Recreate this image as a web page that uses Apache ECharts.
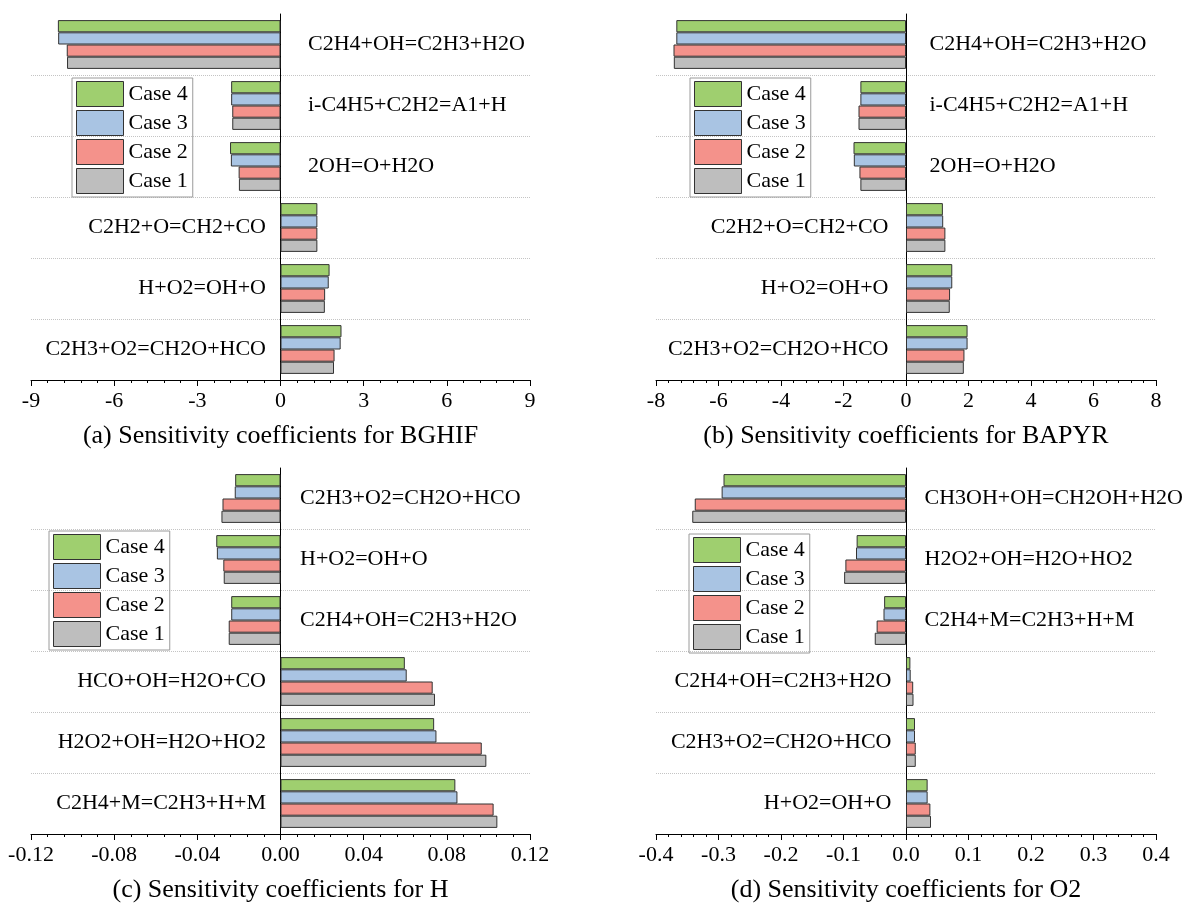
<!DOCTYPE html>
<html>
<head>
<meta charset="utf-8">
<script src="https://cdn.jsdelivr.net/npm/echarts@6/dist/echarts.min.js"></script>
<style>
html,body{margin:0;padding:0;background:#fff;}
#chart{width:1183px;height:905px;}
</style>
</head>
<body>
<div id="chart"></div>
<script>
// ---------- DATA ----------
const caseNames = ['Case 4', 'Case 3', 'Case 2', 'Case 1'];

const catsA = ['C2H4+OH=C2H3+H2O', 'i-C4H5+C2H2=A1+H', '2OH=O+H2O', 'C2H2+O=CH2+CO', 'H+O2=OH+O', 'C2H3+O2=CH2O+HCO'];
const a_case4 = [-8.03, -1.78, -1.82, 1.33, 1.77, 2.20];
const a_case3 = [-8.02, -1.78, -1.79, 1.33, 1.74, 2.17];
const a_case2 = [-7.71, -1.74, -1.51, 1.33, 1.61, 1.95];
const a_case1 = [-7.70, -1.74, -1.50, 1.33, 1.60, 1.93];
const ticksA = [-9, -6, -3, 0, 3, 6, 9];

const catsB = ['C2H4+OH=C2H3+H2O', 'i-C4H5+C2H2=A1+H', '2OH=O+H2O', 'C2H2+O=CH2+CO', 'H+O2=OH+O', 'C2H3+O2=CH2O+HCO'];
const b_case4 = [-7.35, -1.46, -1.68, 1.18, 1.48, 1.97];
const b_case3 = [-7.35, -1.46, -1.67, 1.19, 1.48, 1.97];
const b_case2 = [-7.44, -1.52, -1.49, 1.26, 1.41, 1.87];
const b_case1 = [-7.43, -1.52, -1.46, 1.26, 1.40, 1.85];
const ticksB = [-8, -6, -4, -2, 0, 2, 4, 6, 8];

const catsC = ['C2H3+O2=CH2O+HCO', 'H+O2=OH+O', 'C2H4+OH=C2H3+H2O', 'HCO+OH=H2O+CO', 'H2O2+OH=H2O+HO2', 'C2H4+M=C2H3+H+M'];
const c_case4 = [-0.0218, -0.0309, -0.0237, 0.0598, 0.0739, 0.0841];
const c_case3 = [-0.0220, -0.0306, -0.0237, 0.0607, 0.0750, 0.0851];
const c_case2 = [-0.0279, -0.0275, -0.0249, 0.0732, 0.0968, 0.1025];
const c_case1 = [-0.0284, -0.0273, -0.0249, 0.0743, 0.0990, 0.1043];
const ticksC = [-0.12, -0.08, -0.04, 0.00, 0.04, 0.08, 0.12];

const catsD = ['CH3OH+OH=CH2OH+H2O', 'H2O2+OH=H2O+HO2', 'C2H4+M=C2H3+H+M', 'C2H4+OH=C2H3+H2O', 'C2H3+O2=CH2O+HCO', 'H+O2=OH+O'];
const d_case4 = [-0.292, -0.079, -0.035, 0.0070, 0.0144, 0.0346];
const d_case3 = [-0.295, -0.080, -0.036, 0.0075, 0.0144, 0.0346];
const d_case2 = [-0.338, -0.097, -0.047, 0.0115, 0.0156, 0.0390];
const d_case1 = [-0.342, -0.099, -0.050, 0.0120, 0.0156, 0.0400];
const ticksD = [-0.4, -0.3, -0.2, -0.1, 0.0, 0.1, 0.2, 0.3, 0.4];

const titles = [
  '(a) Sensitivity coefficients for BGHIF',
  '(b) Sensitivity coefficients for BAPYR',
  '(c) Sensitivity coefficients for H',
  '(d) Sensitivity coefficients for O2'
];

// ---------- STYLE / LAYOUT ----------
const FONT = '"Liberation Serif", "Times New Roman", serif';
const caseColors = ['#9fcf6f', '#a9c4e3', '#f4928b', '#bebebe'];

const panels = [
  { cats: catsA, vals: [a_case4, a_case3, a_case2, a_case1], ticks: ticksA, dec: 0,
    grid: { left: 31, right: 653, top: 14, bottom: 525 }, legend: { left: 72, top: 78 }, mL: 14, mR: 27 },
  { cats: catsB, vals: [b_case4, b_case3, b_case2, b_case1], ticks: ticksB, dec: 0,
    grid: { left: 656, right: 27, top: 14, bottom: 525 }, legend: { left: 690, top: 78 }, mL: 17, mR: 23 },
  { cats: catsC, vals: [c_case4, c_case3, c_case2, c_case1], ticks: ticksC, dec: 2,
    grid: { left: 31, right: 653, top: 468, bottom: 71 }, legend: { left: 49, top: 531 }, mL: 14, mR: 19 },
  { cats: catsD, vals: [d_case4, d_case3, d_case2, d_case1], ticks: ticksD, dec: 1,
    grid: { left: 656, right: 27, top: 468, bottom: 71 }, legend: { left: 689, top: 534 }, mL: 14, mR: 18 }
];

const option = {
  animation: false,
  backgroundColor: '#fff',
  textStyle: { fontFamily: FONT },
  grid: [], xAxis: [], yAxis: [], series: [], legend: []
};

panels.forEach((p, g) => {
  const neg = p.vals[3].map(v => v < 0);
  option.grid.push(Object.assign({ outerBoundsMode: 'none', containLabel: false }, p.grid));
  const t = p.ticks;
  option.xAxis.push({
    type: 'value', gridIndex: g,
    min: t[0], max: t[t.length - 1], interval: t[1] - t[0],
    name: titles[g], nameLocation: 'middle', nameGap: 43,
    nameTextStyle: { fontFamily: FONT, fontSize: 26, color: '#000' },
    axisLine: { show: true, onZero: false, lineStyle: { color: '#000', width: 1 } },
    axisTick: { show: true, length: 6, lineStyle: { color: '#000' } },
    minorTick: { show: true, splitNumber: 5, length: 3, lineStyle: { color: '#000' } },
    splitLine: { show: false },
    axisLabel: { fontFamily: FONT, fontSize: 22, color: '#000', margin: 10,
      formatter: v => (Math.abs(v) < 1e-9 ? 0 : v).toFixed(p.dec) }
  });
  option.yAxis.push({
    type: 'category', gridIndex: g, data: p.cats, inverse: true,
    axisLine: { show: true, onZero: true, lineStyle: { color: '#000', width: 1 } },
    axisTick: { show: false },
    axisLabel: { show: false },
    splitLine: { show: true, interval: (i) => i !== 0,
      lineStyle: { type: 'dotted', color: '#c4c4c4', width: 1 } }
  });
  caseNames.forEach((name, k) => {
    option.series.push({
      type: 'bar', name: name, xAxisIndex: g, yAxisIndex: g,
      data: p.vals[k], barGap: '0%', barCategoryGap: '20%',
      itemStyle: { color: caseColors[k], borderColor: '#333', borderWidth: 1 },
      emphasis: { disabled: true }
    });
  });
  // reaction names, written next to the zero line on the side opposite the bars
  option.series.push({
    type: 'scatter', name: 'labels', xAxisIndex: g, yAxisIndex: g, silent: true,
    symbolSize: 1, itemStyle: { color: 'rgba(0,0,0,0)', opacity: 1 }, z: 5,
    data: p.cats.map((c, i) => ({
      value: [0, c],
      label: { show: true, position: neg[i] ? 'right' : 'left', distance: neg[i] ? p.mR : p.mL,
        formatter: c, fontFamily: FONT, fontSize: 22, color: '#000', opacity: 1 }
    })),
    emphasis: { disabled: true }
  });
  option.legend.push({
    orient: 'vertical', left: p.legend.left, top: p.legend.top,
    data: caseNames, icon: 'rect',
    itemWidth: 47, itemHeight: 25, itemGap: 3, padding: [3, 5, 3, 4],
    borderColor: '#9a9a9a', borderWidth: 1,
    itemStyle: { borderColor: '#333', borderWidth: 1 },
    textStyle: { fontFamily: FONT, fontSize: 22, color: '#000' },
    selectedMode: false
  });
});

const chart = echarts.init(document.getElementById('chart'), null, { renderer: 'canvas' });
chart.setOption(option);
</script>
</body>
</html>
